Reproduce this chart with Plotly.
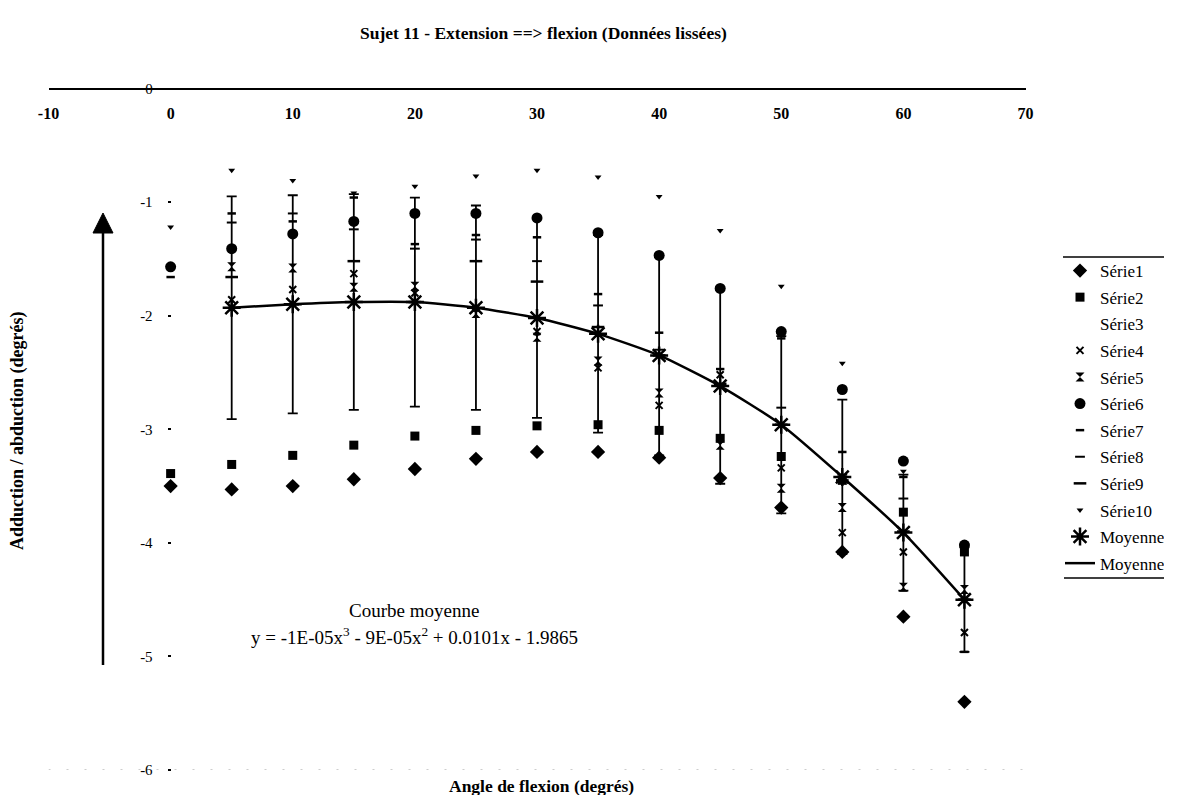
import plotly.graph_objects as go

# Flexion angles (degrees)
angles = [0, 5, 10, 15, 20, 25, 30, 35, 40, 45, 50, 55, 60, 65]

# Smoothed adduction / abduction per trial (degrees)
serie1 = [-3.50, -3.53, -3.50, -3.44, -3.35, -3.26, -3.20, -3.20, -3.25, -3.43, -3.69, -4.08, -4.65, -5.40]
serie2 = [-3.39, -3.31, -3.23, -3.14, -3.06, -3.01, -2.97, -2.96, -3.01, -3.08, -3.24, -3.45, -3.73, -4.08]
serie3 = [None, None, None, None, None, None, None, None, None, None, None, None, None, None]
serie4 = [None, -1.86, -1.77, -1.63, -1.80, -1.93, -2.14, -2.46, -2.79, -2.52, -3.34, -3.91, -4.08, -4.79]
serie5 = [None, -1.57, -1.58, -1.75, -1.74, -1.98, -2.19, -2.40, -2.68, -3.14, -3.52, -3.69, -4.39, -4.41]
serie6 = [-1.57, -1.41, -1.28, -1.17, -1.10, -1.10, -1.14, -1.27, -1.47, -1.76, -2.14, -2.65, -3.28, -4.02]
serie7 = [-1.66, -1.10, -1.17, -0.96, -1.37, -1.29, -1.31, -1.81, -2.15, -2.47, -2.20, -3.20, -3.42, -4.96]
serie8 = [None, -1.18, -1.10, -1.24, -1.41, -1.33, -1.52, -1.91, -2.30, -2.62, -2.81, -3.40, -3.61, -4.50]
serie9 = [None, -1.66, -1.90, -1.52, -1.88, -1.52, -1.70, -2.10, -2.35, -2.60, -2.96, -3.45, -3.90, -4.50]
serie10 = [-1.22, -0.72, -0.81, -0.92, -0.86, -0.77, -0.72, -0.78, -0.95, -1.25, -1.74, -2.42, -3.37, -4.05]

# Mean curve and standard deviation
moyenne = [None, -1.93, -1.90, -1.88, -1.88, -1.93, -2.02, -2.16, -2.35, -2.62, -2.96, -3.42, -3.91, -4.50]
ecart_type = [None, 0.98, 0.96, 0.95, 0.92, 0.90, 0.88, 0.87, 0.88, 0.86, 0.78, 0.68, 0.51, 0.46]

x_ticks = [-10, 0, 10, 20, 30, 40, 50, 60, 70]
x_tick_text = ["-10", "0", "10", "20", "30", "40", "50", "60", "70"]
y_ticks = [0, -1, -2, -3, -4, -5, -6]
y_tick_text = ["0", "-1", "-2", "-3", "-4", "-5", "-6"]

# figure kept a little smaller than the window so the page never scrolls
W, H = 1164, 795
SERIF = "Liberation Serif, Times New Roman, serif"


def px(x):
    """Pixel column -> paper fraction."""
    return x / W


def py(y):
    """Pixel row (from the top) -> paper fraction."""
    return 1 - y / H


# plot area in pixels
X_LEFT, X_RIGHT = 48.5, 1025.5
Y_TOP, Y_BOTTOM = 88.5, 770.0
x_dom = [px(X_LEFT), px(X_RIGHT)]
y_dom = [py(Y_BOTTOM), py(Y_TOP)]
x_range = [-10, 70]
yaxis_pos = x_dom[0] + (x_dom[1] - x_dom[0]) * (0 - x_range[0]) / (x_range[1] - x_range[0])

series = [
    ("Série1", serie1, dict(symbol="diamond", size=11, color="black")),
    ("Série2", serie2, dict(symbol="square", size=9, color="black")),
    ("Série3", serie3, dict(symbol="triangle-up", size=8, color="white")),
    ("Série4", serie4, dict(symbol="x-thin-open", size=7, color="black", line=dict(width=2, color="black"))),
    ("Série5", serie5, dict(symbol="hourglass", size=9, color="black")),
    ("Série6", serie6, dict(symbol="circle", size=11, color="black")),
    ("Série7", serie7, dict(symbol="line-ew-open", size=6, color="black", line=dict(width=2.5, color="black"))),
    ("Série8", serie8, dict(symbol="line-ew-open", size=7, color="black", line=dict(width=2, color="black"))),
    ("Série9", serie9, dict(symbol="line-ew-open", size=9, color="black", line=dict(width=2.5, color="black"))),
    ("Série10", serie10, dict(symbol="triangle-down", size=6, color="black")),
]

fig = go.Figure()

for i, (name, values, marker) in enumerate(series):
    fig.add_trace(go.Scatter(
        x=angles, y=values, mode="markers", name=name, marker=marker,
        legendgroup=f"g{i}", cliponaxis=False,
    ))

fig.add_trace(go.Scatter(
    x=angles, y=moyenne, mode="markers", name="Moyenne", legendgroup="gm",
    marker=dict(symbol="asterisk-open", size=15, color="black", line=dict(width=2.5, color="black")),
    error_y=dict(type="data", array=ecart_type, symmetric=True, color="black", thickness=1.8, width=5),
))

fig.add_trace(go.Scatter(
    x=angles, y=moyenne, mode="lines", name="Moyenne", legendgroup="gl",
    line=dict(color="black", width=2.5, shape="spline", smoothing=0.6),
))

shapes = [
    # vertical arrow on the left
    dict(type="line", xref="paper", yref="paper", x0=px(103), x1=px(103), y0=py(665), y1=py(228),
         line=dict(color="black", width=2.5)),
    dict(type="path", xref="paper", yref="paper",
         path=f"M {px(103)},{py(213)} L {px(93)},{py(233)} L {px(113)},{py(233)} Z",
         fillcolor="black", line=dict(color="black", width=1)),
    # faint bottom border of the plot area
    dict(type="line", xref="x", yref="y", x0=-10, x1=70, y0=-6, y1=-6,
         line=dict(color="#9a9a9a", width=1, dash="2px,16px")),
    # legend frame lines
    dict(type="line", xref="paper", yref="paper", x0=px(1063), x1=1, y0=py(257), y1=py(257),
         line=dict(color="black", width=1.5)),
    dict(type="line", xref="paper", yref="paper", x0=px(1064), x1=1, y0=py(578), y1=py(578),
         line=dict(color="black", width=1.5)),
]


def label(text, x, y, size, angle=0):
    return dict(text=text, x=px(x), y=py(y), xref="paper", yref="paper", showarrow=False,
                xanchor="center", yanchor="middle", textangle=angle,
                font=dict(family=SERIF, size=size, color="black"))


annotations = [
    label("<b>Sujet 11 - Extension ==> flexion (Données lissées)</b>", 543, 33, 17.5),
    label("<b>Angle de flexion (degrés)</b>", 541, 786, 17.5),
    label("<b>Adduction / abduction (degrés)</b>", 17, 431, 18, angle=-90),
    label("Courbe moyenne", 414, 610, 19),
    label("y = -1E-05x<sup>3</sup> - 9E-05x<sup>2</sup> + 0.0101x - 1.9865", 414, 636, 19),
]

fig.update_layout(
    width=W, height=H,
    margin=dict(l=0, r=0, t=0, b=0, autoexpand=False),
    paper_bgcolor="white", plot_bgcolor="white",
    font=dict(family=SERIF, color="black", size=14),
    xaxis=dict(
        domain=x_dom, range=x_range, anchor="free", position=y_dom[1], side="bottom",
        tickvals=x_ticks, ticktext=x_tick_text, showgrid=False, zeroline=False,
        showline=True, linecolor="black", linewidth=2,
        ticks="", ticklabelstandoff=10,
        tickfont=dict(family=SERIF, size=16, weight="bold"),
    ),
    yaxis=dict(
        domain=y_dom, range=[-6, 0], anchor="free", position=yaxis_pos,
        tickvals=y_ticks, ticktext=y_tick_text, showgrid=False, zeroline=False,
        showline=False, ticks="outside", ticklen=3, tickwidth=2, tickcolor="black",
        ticklabelstandoff=12,
        tickfont=dict(family=SERIF, size=15),
    ),
    showlegend=True,
    legend=dict(
        x=px(1060), y=py(253), xanchor="left", yanchor="top",
        font=dict(family=SERIF, size=17, color="black"),
        bgcolor="rgba(0,0,0,0)", borderwidth=0, tracegroupgap=1.5,
        itemsizing="trace",
    ),
    shapes=shapes,
    annotations=annotations,
)

fig.write_html("out.html")
